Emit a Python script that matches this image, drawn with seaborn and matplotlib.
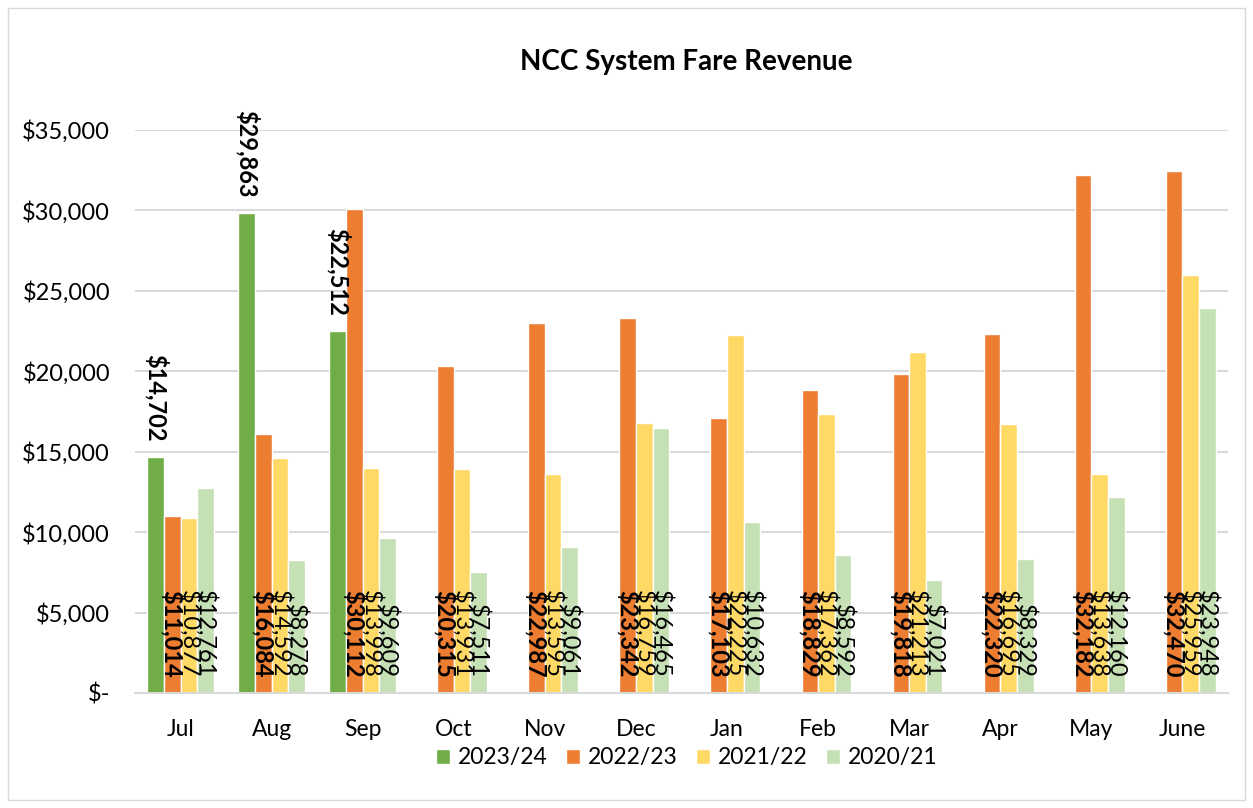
import pandas as pd
import numpy as np
import seaborn as sns
import matplotlib
matplotlib.use("Agg")
import matplotlib.pyplot as plt
from matplotlib.ticker import FuncFormatter
from matplotlib.patches import Rectangle

# ------------------------------------------------------------
# Data
# ------------------------------------------------------------
months = ["Jul", "Aug", "Sep", "Oct", "Nov", "Dec",
          "Jan", "Feb", "Mar", "Apr", "May", "June"]
seasons = ["2023/24", "2022/23", "2021/22", "2020/21"]

rev_2023_24 = [14702, 29863, 22512, np.nan, np.nan, np.nan,
               np.nan, np.nan, np.nan, np.nan, np.nan, np.nan]
rev_2022_23 = [11014, 16084, 30112, 20315, 22987, 23342,
               17103, 18829, 19818, 22320, 32182, 32470]
rev_2021_22 = [10877, 14592, 13998, 13931, 13595, 16759,
               22225, 17362, 21213, 16695, 13638, 25959]
rev_2020_21 = [12761, 8278, 9609, 7511, 9061, 16465,
               10632, 8592, 7021, 8329, 12160, 23948]

colors = ["#70AD47", "#ED7D31", "#FFD966", "#C5E0B4"]

df = pd.DataFrame({
    "month": months * 4,
    "season": np.repeat(seasons, len(months)),
    "revenue": rev_2023_24 + rev_2022_23 + rev_2021_22 + rev_2020_21,
})

# ------------------------------------------------------------
# Plot
# ------------------------------------------------------------
sns.set_theme(style="white")
plt.rcParams["font.family"] = ["Lato", "DejaVu Sans"]
plt.rcParams["text.color"] = "black"

fig = plt.figure(figsize=(12.53, 8.08), dpi=100)
ax = fig.add_axes([135 / 1253, 1 - 693 / 808, (1228 - 135) / 1253, (693 - 130) / 808])

sns.barplot(
    data=df, x="month", y="revenue", hue="season",
    order=months, hue_order=seasons, palette=colors,
    width=0.73, saturation=1, errorbar=None, ax=ax,
)

ax.set_ylim(0, 35000)
ax.set_yticks(range(0, 35001, 5000))
ax.yaxis.set_major_formatter(
    FuncFormatter(lambda v, p: "$-" if v == 0 else f"${v:,.0f}")
)
ax.grid(axis="y", color="#D9D9D9", linewidth=1.5)
ax.set_axisbelow(True)
for s in ["top", "right", "left"]:
    ax.spines[s].set_visible(False)
ax.spines["bottom"].set_color("#D9D9D9")
ax.spines["bottom"].set_linewidth(1.5)
ax.set_xlabel("")
ax.set_ylabel("")
ax.tick_params(axis="y", length=0, pad=18, labelsize=17, labelcolor="black")
ax.tick_params(axis="x", length=0, pad=19, labelsize=16.5, labelcolor="black")

# data labels: 2023/24 above the bar, the rest at the base
for i, container in enumerate(ax.containers):
    weight = "bold" if i < 2 else "normal"
    for bar in container:
        h = bar.get_height()
        if np.isnan(h):
            continue
        x = bar.get_x() + bar.get_width() / 2
        y = h if i == 0 else 0
        ax.annotate(
            f"${h:,.0f}", (x, y), xytext=(0, 11), textcoords="offset points",
            rotation=270, ha="center", va="bottom",
            fontsize=17, fontweight=weight, color="black",
            annotation_clip=False,
        )

sns.move_legend(
    ax, "upper center", bbox_to_anchor=(0.505, -0.06), ncol=4,
    frameon=False, title=None, fontsize=16.5,
    handlelength=0.6, handleheight=0.6, handletextpad=0.35, columnspacing=0.8,
)

fig.text(686 / 1253, 1 - 62 / 808, "NCC System Fare Revenue",
         ha="center", va="center", fontsize=20, fontweight="bold", color="black")

fig.patches.append(Rectangle((8 / 1253, 8 / 808), 1237 / 1253, 792 / 808,
                             transform=fig.transFigure, fill=False,
                             edgecolor="#D9D9D9", linewidth=1))

plt.savefig("out.png", dpi=100)
plt.close()
